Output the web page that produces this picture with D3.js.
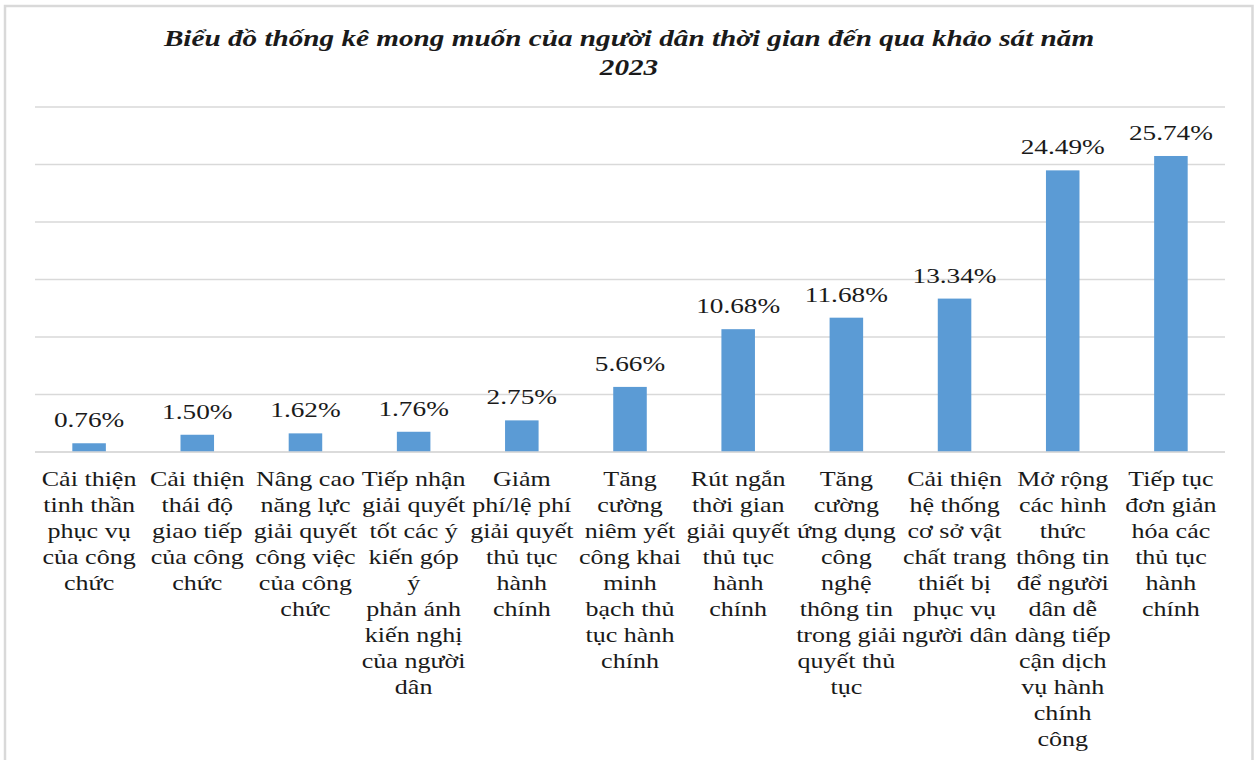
<!DOCTYPE html>
<html>
<head>
<meta charset="utf-8">
<script src="https://cdn.jsdelivr.net/npm/d3@7/dist/d3.min.js"></script>
<style>
  html, body { margin: 0; padding: 0; background: #fff; }
  svg { display: block; }
  svg text { font-family: "Liberation Serif", "Times New Roman", Times, "DejaVu Serif", serif; }
</style>
</head>
<body>
<svg id="chart" width="1257" height="760"></svg>
<script>
const titleLines = ["Biểu đồ thống kê mong muốn của người dân thời gian đến qua khảo sát năm", "2023"];
const categories = [
  "Cải thiện\ntinh thần\nphục vụ\ncủa công\nchức",
  "Cải thiện\nthái độ\ngiao tiếp\ncủa công\nchức",
  "Nâng cao\nnăng lực\ngiải quyết\ncông việc\ncủa công\nchức",
  "Tiếp nhận\ngiải quyết\ntốt các ý\nkiến góp\ný\nphản ánh\nkiến nghị\ncủa người\ndân",
  "Giảm\nphí/lệ phí\ngiải quyết\nthủ tục\nhành\nchính",
  "Tăng\ncường\nniêm yết\ncông khai\nminh\nbạch thủ\ntục hành\nchính",
  "Rút ngắn\nthời gian\ngiải quyết\nthủ tục\nhành\nchính",
  "Tăng\ncường\nứng dụng\ncông\nnghệ\nthông tin\ntrong giải\nquyết thủ\ntục",
  "Cải thiện\nhệ thống\ncơ sở vật\nchất trang\nthiết bị\nphục vụ\nngười dân",
  "Mở rộng\ncác hình\nthức\nthông tin\nđể người\ndân dễ\ndàng tiếp\ncận dịch\nvụ hành\nchính\ncông",
  "Tiếp tục\nđơn giản\nhóa các\nthủ tục\nhành\nchính"
];
const values = [0.76, 1.50, 1.62, 1.76, 2.75, 5.66, 10.68, 11.68, 13.34, 24.49, 25.74];
const yTicks = [0, 5, 10, 15, 20, 25, 30];

const svg = d3.select("#chart");
const SX = 1.24; // horizontal stretch of text in reference
const textColor = "#1a1a1a";

// border
svg.append("rect").attr("x", 5).attr("y", 6).attr("width", 1247.5).attr("height", 770)
  .attr("fill", "#fff").attr("stroke", "#d9d9d9").attr("stroke-width", 2.5);

const x = d3.scaleBand().domain(categories).range([35, 1225]).paddingInner(0.69).paddingOuter(0.345);
const y = d3.scaleLinear().domain([0, 30]).range([452, 107]);

function stretchedText(sel, cx, cy, sx) {
  return sel.attr("transform", `translate(${cx},${cy}) scale(${sx || SX},1)`);
}

// title
const tg = svg.append("g");
titleLines.forEach((t, i) => {
  stretchedText(tg.append("text"), 629, 46 + i * 29, 1.27)
    .attr("text-anchor", "middle")
    .attr("font-size", 23).attr("font-weight", "bold").attr("font-style", "italic")
    .attr("fill", textColor).text(t);
});

// gridlines
svg.append("g").selectAll("line").data(yTicks).join("line")
  .attr("x1", 35).attr("x2", 1225)
  .attr("y1", d => y(d)).attr("y2", d => y(d))
  .attr("stroke", "#d9d9d9").attr("stroke-width", 1.5);

// bars
svg.append("g").selectAll("rect").data(values).join("rect")
  .attr("x", (d, i) => x(categories[i]))
  .attr("width", x.bandwidth())
  .attr("y", d => y(d))
  .attr("height", d => y(0) - y(d))
  .attr("fill", "#5b9bd5");

// axis line
svg.append("line").attr("x1", 35).attr("x2", 1225).attr("y1", y(0)).attr("y2", y(0))
  .attr("stroke", "#d9d9d9").attr("stroke-width", 1.5);

// value labels
const lg = svg.append("g");
values.forEach((v, i) => {
  stretchedText(lg.append("text"), x(categories[i]) + x.bandwidth() / 2, y(v) - 16)
    .attr("text-anchor", "middle")
    .attr("font-size", 22)
    .attr("fill", textColor).text(v.toFixed(2) + "%");
});

// category labels
const cg = svg.append("g");
categories.forEach((c, i) => {
  const cx = x(c) + x.bandwidth() / 2;
  c.split("\n").forEach((line, j) => {
    stretchedText(cg.append("text"), cx, 486 + j * 26)
      .attr("text-anchor", "middle")
      .attr("font-size", 21)
      .attr("fill", textColor).text(line);
  });
});
</script>
</body>
</html>
